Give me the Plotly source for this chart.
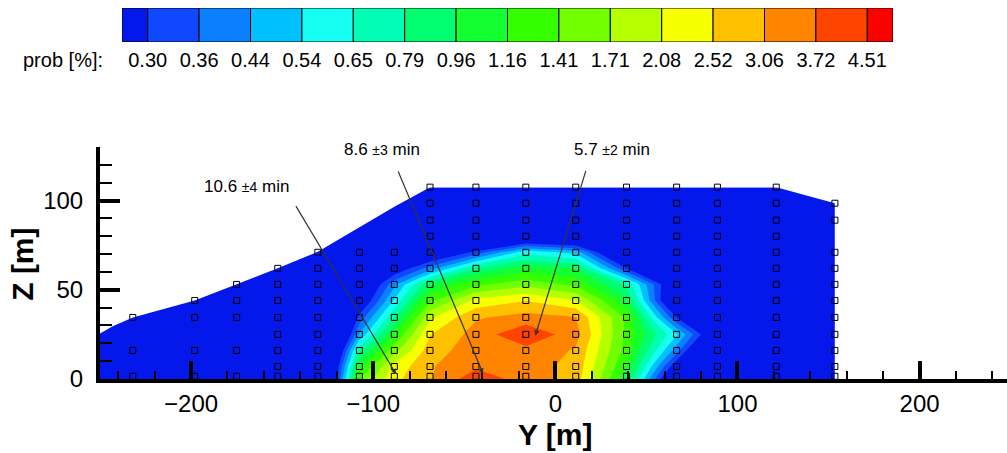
import numpy as np
import plotly.graph_objects as go

FONT = "Liberation Sans, Arial, Helvetica, sans-serif"

# Contour levels of the arrival probability [%] (log-spaced)
levels = [0.30, 0.36, 0.44, 0.54, 0.65, 0.79, 0.96, 1.16, 1.41, 1.71, 2.08, 2.52, 3.06, 3.72, 4.51]
level_labels = ["0.30", "0.36", "0.44", "0.54", "0.65", "0.79", "0.96", "1.16",
                "1.41", "1.71", "2.08", "2.52", "3.06", "3.72", "4.51"]
# one colour per band: below the first level, 14 inner bands, above the last level
band_colors = ["#0418ec", "#1048ff", "#0a80ff", "#00c0ff", "#14fff2", "#00ffb4", "#00ff70", "#14ff30",
               "#34ff00", "#72ff00", "#b4ff00", "#f8ff00", "#ffc000", "#ff8400", "#ff4400", "#ff0000"]

# Sensor columns (Y) and sensor heights (Z) of the cross-section [m]
col_y = [-250, -232, -198, -175, -152.4, -130.4, -107.6, -88.4, -68.8, -43.6,
         -16.2, 11.2, 39.1, 66.6, 89.0, 121.3, 153.5]
row_z = [1.5, 7, 16, 25, 34.5, 44, 53, 62, 71, 80, 89, 98.5, 107.5]

# Probability [%] at each (row, column)
prob = [
    [0.05, 0.05, 0.05, 0.05, 0.06, 0.08, 1.40, 2.40, 3.00, 4.20, 3.40, 2.80, 1.00, 0.17, 0.06, 0.05, 0.05],
    [0.05, 0.05, 0.05, 0.05, 0.06, 0.08, 1.10, 2.20, 3.00, 3.60, 3.30, 2.90, 1.15, 0.25, 0.07, 0.05, 0.05],
    [0.05, 0.05, 0.05, 0.05, 0.05, 0.07, 0.75, 1.60, 2.80, 3.40, 3.50, 3.00, 1.30, 0.40, 0.12, 0.05, 0.05],
    [0.05, 0.05, 0.05, 0.05, 0.05, 0.06, 0.45, 1.15, 2.50, 3.30, 4.40, 3.30, 1.35, 0.55, 0.20, 0.05, 0.05],
    [0.05, 0.05, 0.05, 0.05, 0.05, 0.05, 0.32, 0.78, 2.00, 3.00, 3.30, 3.10, 1.35, 0.30, 0.10, 0.05, 0.05],
    [0.05, 0.05, 0.05, 0.05, 0.05, 0.05, 0.22, 0.55, 1.35, 2.20, 2.50, 2.10, 1.00, 0.17, 0.06, 0.05, 0.05],
    [0.05, 0.05, 0.05, 0.05, 0.05, 0.05, 0.18, 0.42, 0.95, 1.35, 1.60, 1.35, 0.75, 0.20, 0.05, 0.05, 0.05],
    [0.05, 0.05, 0.05, 0.05, 0.05, 0.05, 0.10, 0.24, 0.40, 0.80, 1.05, 0.95, 0.30, 0.10, 0.05, 0.05, 0.05],
    [0.05, 0.05, 0.05, 0.05, 0.05, 0.05, 0.06, 0.12, 0.20, 0.32, 0.60, 0.50, 0.15, 0.06, 0.05, 0.05, 0.05],
    [0.05, 0.05, 0.05, 0.05, 0.05, 0.05, 0.05, 0.05, 0.07, 0.12, 0.17, 0.15, 0.08, 0.05, 0.05, 0.05, 0.05],
    [0.05, 0.05, 0.05, 0.05, 0.05, 0.05, 0.05, 0.05, 0.05, 0.07, 0.08, 0.08, 0.06, 0.05, 0.05, 0.05, 0.05],
    [0.05, 0.05, 0.05, 0.05, 0.05, 0.05, 0.05, 0.05, 0.05, 0.05, 0.05, 0.05, 0.05, 0.05, 0.05, 0.05, 0.05],
    [0.05, 0.05, 0.05, 0.05, 0.05, 0.05, 0.05, 0.05, 0.05, 0.05, 0.05, 0.05, 0.05, 0.05, 0.05, 0.05, 0.05],
]

# Sensors installed in each column (heights in m)
sensor_columns = [-232, -198, -175, -152.4, -130.4, -107.6, -88.4, -68.8, -43.6,
                  -16.2, 11.2, 39.1, 66.6, 89.0, 121.3, 153.5]
sensor_heights = [
    [1.5, 16, 34.5],
    [1.5, 16, 34.5, 44],
    [1.5, 16, 34.5, 44, 53],
    [1.5, 7, 16, 25, 34.5, 44, 53, 62],
    [1.5, 7, 16, 25, 34.5, 44, 53, 62, 71],
    [1.5, 7, 16, 25, 34.5, 44, 53, 62, 71],
    [1.5, 7, 16, 25, 34.5, 44, 53, 62, 71],
    row_z, row_z, row_z, row_z, row_z, row_z, row_z, row_z,
    [1.5, 7, 16, 25, 34.5, 44, 53, 62, 71, 89, 98.5],
]

# Upper outline of the cross-section (Y, Z) [m]
outline_y = [-250, -243, -232, -198, -175, -152.4, -130.4, -108, -88.4, -68.8, 121.3, 153.5]
outline_z = [25.5, 29.5, 34.5, 44, 53, 62, 71.3, 85, 96.5, 107.5, 107.5, 98.5]

# Mean travel times and the points they refer to
time_labels = ["10.6 <span style='font-size:14px'>±4</span> min",
               "8.6 <span style='font-size:14px'>±3</span> min",
               "5.7 <span style='font-size:14px'>±2</span> min"]
label_pos = [(-169.8, 108.0), (-95.2, 128.4), (31.3, 128.4)]
arrow_tail = [(-142.9, 97.7), (-86.6, 117.1), (17.0, 117.5)]
arrow_head = [(-87.4, 2.7), (-39.7, 3.0), (-11.0, 24.3)]

# ---------------------------------------------------------------------------
grid_z = [0.0] + row_z[1:]          # field extended down to the bed
log_prob = np.log10(np.array(prob))
c_start = np.log10(levels[0])
c_end = np.log10(levels[-1])
c_size = (c_end - c_start) / (len(levels) - 1)
n_bands = len(band_colors)
colorscale = [[i / (n_bands - 1), c] for i, c in enumerate(band_colors)]

fig = go.Figure()

fig.add_trace(go.Contour(
    x=col_y, y=grid_z, z=log_prob,
    colorscale=colorscale, showscale=False, autocontour=False,
    contours=dict(start=c_start, end=c_end, size=c_size, coloring="fill"),
    line=dict(width=0, smoothing=0), hoverinfo="skip",
))

# blank out everything above the section outline
mask_y = [outline_y[0] - 1] + outline_y + [outline_y[-1] + 1, outline_y[0] - 1]
mask_z = [outline_z[0]] + outline_z + [131, 131]
fig.add_trace(go.Scatter(x=mask_y, y=mask_z, mode="lines", fill="toself",
                         fillcolor="white", line=dict(width=0, color="white"),
                         hoverinfo="skip", showlegend=False))

# sensors
sx, sz = [], []
for y, hs in zip(sensor_columns, sensor_heights):
    for h in hs:
        sx.append(y)
        sz.append(h)
fig.add_trace(go.Scatter(x=sx, y=sz, mode="markers",
                         marker=dict(symbol="square-open", size=6, color="black",
                                     line=dict(width=1, color="black")),
                         hoverinfo="skip", showlegend=False))

# level key drawn as a row of bands
widths = [0.5] + [1.0] * (n_bands - 2) + [0.5]
centers = []
pos = 0.0
for w in widths:
    centers.append(pos + w / 2)
    pos += w
fig.add_trace(go.Bar(x=centers, y=[1] * n_bands, width=widths, base=0,
                     marker=dict(color=band_colors, line=dict(color="black", width=1)),
                     xaxis="x2", yaxis="y2", hoverinfo="skip", showlegend=False))

W, H = 1007, 453
PLOT_H = 379
annotations = []
for txt, (lx, lz) in zip(time_labels, label_pos):
    annotations.append(dict(x=lx, y=lz, xref="x", yref="y", text=txt, showarrow=False,
                            font=dict(family=FONT, size=17, color="black"),
                            xanchor="center", yanchor="middle"))
for (tx, tz), (hx, hz) in zip(arrow_tail, arrow_head):
    annotations.append(dict(x=hx, y=hz, ax=tx, ay=tz, xref="x", yref="y",
                            axref="x", ayref="y", text="", showarrow=True,
                            arrowhead=2, arrowsize=0.9, arrowwidth=1.2, arrowcolor="#333333"))
annotations.append(dict(x=105 / W, y=(PLOT_H - 60) / PLOT_H, xref="paper", yref="paper",
                        text="prob [%]:", showarrow=False, xanchor="right", yanchor="middle",
                        font=dict(family=FONT, size=20, color="black")))
annotations.append(dict(x=0, y=(PLOT_H - 434) / PLOT_H, xref="x", yref="paper",
                        text="<b>Y [m]</b>", showarrow=False, xanchor="center", yanchor="middle",
                        font=dict(family=FONT, size=30, color="black")))
annotations.append(dict(x=23 / W, y=64, xref="paper", yref="y", textangle=-90,
                        text="<b>Z [m]</b>", showarrow=False, xanchor="center", yanchor="middle",
                        font=dict(family=FONT, size=30, color="black")))

tickfont = dict(family=FONT, size=24, color="black")
fig.update_layout(
    width=W, height=H, autosize=False,
    margin=dict(l=0, r=0, t=0, b=H - PLOT_H),
    paper_bgcolor="white", plot_bgcolor="white",
    showlegend=False, barmode="overlay",
    annotations=annotations,
    xaxis=dict(domain=[100 / W, 1.0], range=[-250, 248], showgrid=False, zeroline=False,
               showline=True, linewidth=4, linecolor="black",
               ticks="inside", ticklen=18, tickwidth=4, tickcolor="black",
               tick0=0, dtick=100, tickfont=tickfont, ticklabelstandoff=0,
               minor=dict(ticks="inside", ticklen=8, tickwidth=1.5, tickcolor="black",
                          tick0=0, dtick=20, showgrid=False),
               anchor="y", fixedrange=True),
    yaxis=dict(domain=[0, 232 / PLOT_H], range=[0, 130], showgrid=False, zeroline=False,
               showline=True, linewidth=4, linecolor="black",
               ticks="inside", ticklen=20, tickwidth=4, tickcolor="black",
               tick0=0, dtick=50, tickfont=tickfont, ticklabelstandoff=8,
               minor=dict(ticks="inside", ticklen=12, tickwidth=1.5, tickcolor="black",
                          tick0=0, dtick=10, showgrid=False),
               anchor="x", fixedrange=True),
    xaxis2=dict(domain=[122 / W, 893 / W], range=[0, sum(widths)], anchor="y2",
                tickvals=[0.5 + k for k in range(len(levels))], ticktext=level_labels,
                ticks="", showline=False, showgrid=False, zeroline=False,
                ticklabelstandoff=4,
                tickfont=dict(family=FONT, size=20, color="black"), fixedrange=True),
    yaxis2=dict(domain=[(PLOT_H - 42) / PLOT_H, (PLOT_H - 8) / PLOT_H], range=[0, 1],
                anchor="x2", visible=False, fixedrange=True),
)

fig.write_html("out.html")
